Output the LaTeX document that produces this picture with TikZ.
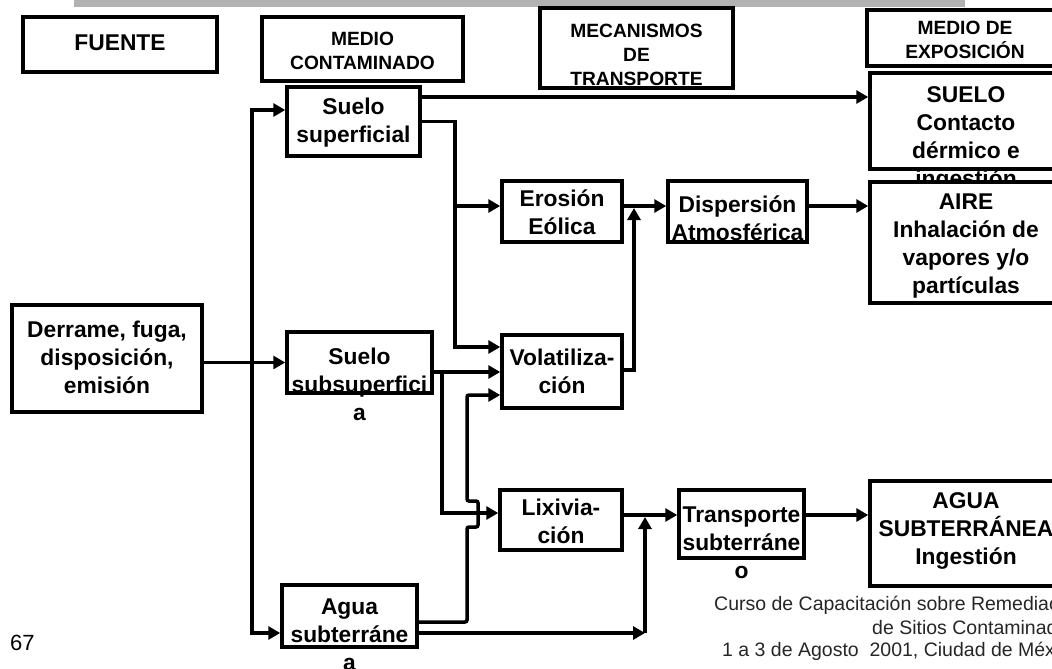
\documentclass[tikz,border=0pt]{standalone}
\usepackage{fontspec}
\setmainfont{Liberation Sans}
\usetikzlibrary{arrows.meta}
\begin{document}
\begin{tikzpicture}[x=1pt,y=-1pt,
  box/.style={draw, line width=3.5pt, fill=white, inner sep=0pt},
  txt/.style={align=center, inner sep=0pt, font=\bfseries\fontsize{22.8}{28}\selectfont},
  hdr/.style={align=center, inner sep=0pt, font=\bfseries\fontsize{19.2}{24}\selectfont},
  foot/.style={anchor=west, inner sep=0pt, text=black!85, font=\fontsize{19.5}{23}\selectfont},
  arr/.style={line width=3.5pt, -{Triangle[length=12pt,width=13pt]}},
  ln/.style={line width=3.5pt}]
\clip (0,0) rectangle (1052,669);
\fill[gray!60] (74,0) rectangle (965,7);
% headers
\node[box,minimum width=194pt,minimum height=55pt] (fuente) at (120,44.5) {};
\node[txt] (fuenteT) at (120,43) {FUENTE};
\node[box,minimum width=201pt,minimum height=64pt] (medio) at (362.5,49) {};
\node[hdr] (medioT) at (362.5,51) {MEDIO\\CONTAMINADO};
\node[box,minimum width=193pt,minimum height=80pt] (mecan) at (636.5,48) {};
\node[hdr] (mecanT) at (636.5,55) {MECANISMOS\\DE\\TRANSPORTE};
\node[box,minimum width=196pt,minimum height=56pt] (medexp) at (965,38) {};
\node[hdr] (medexpT) at (965,40) {MEDIO DE\\EXPOSICIÓN};
% main nodes
\node[box,minimum width=190pt,minimum height=107pt] (derrame) at (107,358.5) {};
\node[txt] (derrameT) at (107,357.5) {Derrame, fuga,\\disposición,\\emisión};
\node[box,minimum width=133pt,minimum height=69pt] (superf) at (353.5,121.5) {};
\node[txt] (superfT) at (353.5,123) {Suelo\\superficial};
\node[box,minimum width=145pt,minimum height=61pt] (subsup) at (359.5,362.5) {};
\node[txt] (subsupT) at (359.5,384) {Suelo\\subsuperfici\\a};
\node[box,minimum width=135pt,minimum height=62pt] (agua) at (349.5,616) {};
\node[txt] (aguaT) at (349.5,635) {Agua\\subterráne\\a};
\node[box,minimum width=120pt,minimum height=61pt] (eros) at (562,211.5) {};
\node[txt] (erosT) at (562,212.5) {Erosión\\Eólica};
\node[box,minimum width=120pt,minimum height=73pt] (volat) at (562,371.5) {};
\node[txt] (volatT) at (562,371) {Volatiliza-\\ción};
\node[box,minimum width=122pt,minimum height=60pt] (lixiv) at (561,520) {};
\node[txt] (lixivT) at (561,521.5) {Lixivia-\\ción};
\node[box,minimum width=139pt,minimum height=61pt] (disp) at (737.5,211.5) {};
\node[txt] (dispT) at (737.5,218) {Dispersión\\Atmosférica};
\node[box,minimum width=125pt,minimum height=68pt] (transp) at (741.5,524) {};
\node[txt] (transpT) at (741.5,543) {Transporte\\subterráne\\o};
\node[box,minimum width=192pt,minimum height=96pt] (suelo) at (966,121) {};
\node[txt] (sueloT) at (966,138.5) {SUELO\\Contacto\\dérmico e\\ingestión};
\node[box,minimum width=192pt,minimum height=121pt] (aire) at (966,242.5) {};
\node[txt] (aireT) at (966,246) {AIRE\\Inhalación de\\vapores y/o\\partículas};
\node[box,minimum width=192pt,minimum height=105pt] (aguaexp) at (966,533.5) {};
\node[txt] (aguaexpT) at (966,531) {AGUA\\SUBTERRÁNEA\\Ingestión};
% connectors
\coordinate (j1) at (252,362.5);
\draw[arr] (derrame.east |- subsup.west) -- (subsup.west);
\draw[arr] (j1) |- (superf.west |- 0,110);
\draw[arr] (j1) |- (agua.west |- 0,633);
\draw[arr] (superf.east |- 0,97) -- (suelo.west |- 0,97);
\coordinate (b1) at (455,206);
\draw[arr] (superf.east) -| (b1) |- (volat.west |- 0,347);
\draw[arr] (b1) -- (eros.west |- b1);
\draw[arr] (eros.east |- b1) -- (disp.west |- b1);
\draw[arr] (disp.east |- b1) -- (aire.west |- b1);
\coordinate (b2) at (634,370);
\draw[arr] (volat.east |- b2) -| (634,208);
\coordinate (b3) at (442,372);
\draw[arr] (subsup.east |- b3) -- (volat.west |- b3);
\draw[arr] (b3) |- (lixiv.west |- 0,513);
\coordinate (b4) at (467,622);
\coordinate (h1) at (467,527);
\coordinate (h2) at (478,527);
\coordinate (h3) at (478,501);
\coordinate (h4) at (467,501);
\draw[arr,rounded corners=2pt] (agua.east |- b4) -- (b4) -- (h1) -- (h2) -- (h3) -- (h4) |- (volat.west |- 0,395);
\coordinate (b5) at (645,633);
\draw[arr] (agua.east |- b5) -- (b5);
\draw[arr] (b5) -- (645,517);
\draw[arr] (lixiv.east |- 0,515) -- (transp.west |- 0,515);
\draw[arr] (transp.east |- 0,515) -- (aguaexp.west |- 0,515);
% footer
\node[foot] (f1) at (714,605) {Curso de Capacitación sobre Remediación};
\node[foot] (f2) at (872,628) {de Sitios Contaminados};
\node[foot] (f3) at (722,651) {1 a 3 de Agosto\ \ 2001, Ciudad de México};
\node[anchor=west, inner sep=0pt, font=\fontsize{22}{26}\selectfont] (pg) at (10,643) {67};
\end{tikzpicture}
\end{document}
